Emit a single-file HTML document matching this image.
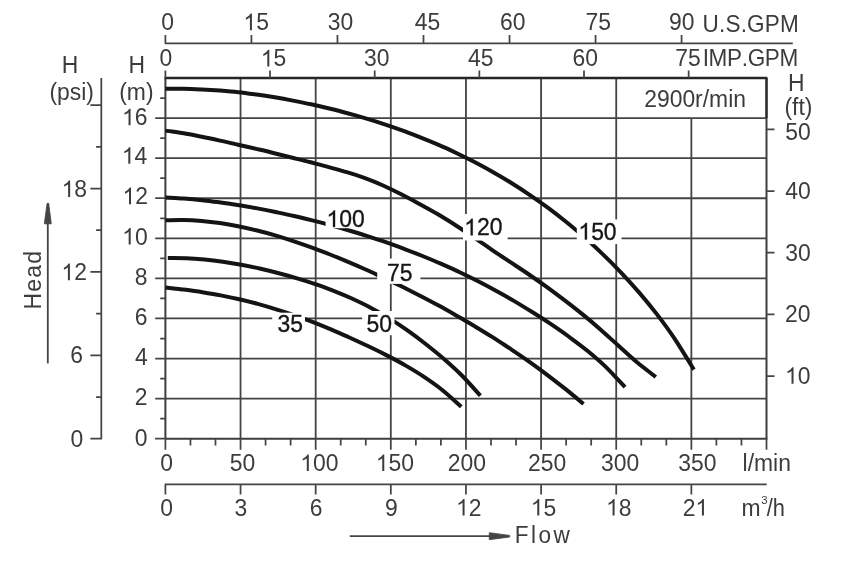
<!DOCTYPE html>
<html><head><meta charset="utf-8"><title>Pump performance curves</title>
<style>html,body{margin:0;padding:0;background:#fff}body{width:858px;height:564px;overflow:hidden;font-family:"Liberation Sans",sans-serif}svg{display:block;will-change:transform}</style>
</head><body>
<svg width="858" height="564" viewBox="0 0 858 564">
<rect width="858" height="564" fill="#fff"/>
<path d="M240.54 78.0V438.7M315.68 78.0V438.7M390.81 78.0V438.7M465.95 78.0V438.7M541.09 78.0V438.7M616.23 78.0V438.7M691.36 118.08V438.7M165.4 398.62H766.5M165.4 358.54H766.5M165.4 318.47H766.5M165.4 278.39H766.5M165.4 238.31H766.5M165.4 198.23H766.5M165.4 158.16H766.5M165.4 118.08H766.5" stroke="#444444" stroke-width="1.8" fill="none"/>
<path d="M165.4 77.7V438.7M766.5 78.0V438.7" stroke="#3e3e3e" stroke-width="2.0" fill="none"/>
<path d="M164.6 78.0H767.4" stroke="#262626" stroke-width="2.3" fill="none"/>
<path d="M766.5 78.0V118.08" stroke="#2c2c2c" stroke-width="2.3" fill="none"/>
<path d="M165.4 438.7H767.4" stroke="#3e3e3e" stroke-width="2.1" fill="none"/>
<path d="M155.1 438.7H165.4M165.40 438.7V449.7M190.45 438.7V445.5M215.49 438.7V445.5M240.54 438.7V449.7M265.58 438.7V445.5M290.63 438.7V445.5M315.68 438.7V449.7M340.72 438.7V445.5M365.77 438.7V445.5M390.81 438.7V449.7M415.86 438.7V445.5M440.90 438.7V445.5M465.95 438.7V449.7M491.00 438.7V445.5M516.04 438.7V445.5M541.09 438.7V449.7M566.13 438.7V445.5M591.18 438.7V445.5M616.23 438.7V449.7M641.27 438.7V445.5M666.32 438.7V445.5M691.36 438.7V449.7M716.41 438.7V445.5M741.45 438.7V445.5M766.50 438.7V449.7M160.20000000000002 418.66H165.4M155.20000000000002 398.62H165.4M160.20000000000002 378.58H165.4M155.20000000000002 358.54H165.4M160.20000000000002 338.51H165.4M155.20000000000002 318.47H165.4M160.20000000000002 298.43H165.4M155.20000000000002 278.39H165.4M160.20000000000002 258.35H165.4M155.20000000000002 238.31H165.4M160.20000000000002 218.27H165.4M155.20000000000002 198.23H165.4M160.20000000000002 178.19H165.4M155.20000000000002 158.16H165.4M160.20000000000002 138.12H165.4M155.20000000000002 118.08H165.4M160.20000000000002 98.04H165.4M766.5 376.10H774.5M766.5 314.40H774.5M766.5 252.70H774.5M766.5 191.00H774.5M766.5 129.30H774.5" stroke="#444444" stroke-width="1.75" fill="none"/>
<path d="M101.3 78.0V439.4M90.39999999999999 438.70H101.3M96.1 397.00H101.3M90.39999999999999 355.30H101.3M96.1 313.60H101.3M90.39999999999999 271.90H101.3M96.1 230.20H101.3M90.39999999999999 188.50H101.3M96.1 146.80H101.3M90.39999999999999 105.10H101.3" stroke="#444444" stroke-width="1.75" fill="none"/>
<path d="M164.70000000000002 43.3H792.8M165.40 43.3V35.099999999999994M251.43 43.3V35.099999999999994M337.46 43.3V35.099999999999994M423.49 43.3V35.099999999999994M509.52 43.3V35.099999999999994M595.55 43.3V35.099999999999994M681.58 43.3V35.099999999999994M165.40 78.0V70.4M270.05 78.0V70.4M374.70 78.0V70.4M479.35 78.0V70.4M584.00 78.0V70.4M688.65 78.0V70.4" stroke="#444444" stroke-width="1.75" fill="none"/>
<path d="M164.70000000000002 484.4H766.7M165.40 484.4V494.59999999999997M240.54 484.4V494.59999999999997M315.68 484.4V494.59999999999997M390.81 484.4V494.59999999999997M465.95 484.4V494.59999999999997M541.09 484.4V494.59999999999997M616.23 484.4V494.59999999999997M691.36 484.4V494.59999999999997" stroke="#444444" stroke-width="1.75" fill="none"/>
<path d="M47.8 363.4V220" stroke="#444444" stroke-width="1.8" fill="none"/>
<path d="M47.1 203.3H48.7L51.3 223.8H44.3Z" fill="#444444" stroke="#444444" stroke-width="0.8" stroke-linejoin="round"/>
<path d="M349.8 536.1H492" stroke="#444444" stroke-width="1.8" fill="none"/>
<path d="M509.7 535.4V537L489.3 539.7V532.7Z" fill="#444444" stroke="#444444" stroke-width="0.8" stroke-linejoin="round"/>
<path d="M165.5 88.7C168.5 88.7 177.6 88.6 183.7 88.7C189.8 88.8 195.8 89.1 201.9 89.4C208.0 89.7 214.0 90.1 220.1 90.6C226.2 91.1 232.2 91.6 238.3 92.3C244.4 93.0 250.4 93.8 256.5 94.6C262.6 95.4 268.6 96.3 274.7 97.3C280.8 98.3 286.8 99.4 292.9 100.6C299.0 101.8 305.0 103.0 311.1 104.3C317.2 105.6 323.2 107.0 329.3 108.5C335.4 110.0 341.4 111.5 347.5 113.2C353.6 114.9 359.6 116.6 365.7 118.4C371.8 120.2 377.8 122.1 383.9 124.1C390.0 126.1 396.0 128.2 402.1 130.4C408.2 132.6 414.2 135.0 420.3 137.4C426.4 139.8 432.5 142.3 438.6 144.9C444.7 147.5 450.7 150.3 456.8 153.2C462.9 156.1 468.9 159.1 475.0 162.3C481.1 165.5 487.1 168.8 493.2 172.2C499.3 175.6 505.3 179.2 511.4 183.0C517.5 186.8 523.5 190.7 529.6 194.8C535.7 198.9 541.7 203.2 547.8 207.7C553.9 212.2 559.9 216.9 566.0 221.8C572.1 226.7 578.1 231.8 584.2 237.1C590.3 242.4 596.3 248.1 602.4 253.9C608.5 259.7 614.5 265.7 620.6 272.1C626.7 278.5 632.7 285.1 638.8 292.1C644.9 299.2 650.9 306.5 657.0 314.4C663.1 322.3 669.1 330.4 675.2 339.6C681.3 348.8 690.8 364.6 693.9 369.6" stroke="#141414" stroke-width="4.0" fill="none"/>
<path d="M165.5 130.6C168.5 131.1 177.5 132.3 183.6 133.3C189.7 134.3 195.8 135.6 201.8 136.8C207.9 138.0 213.9 139.3 219.9 140.6C225.9 141.9 231.9 143.3 238.0 144.7C244.1 146.1 250.1 147.5 256.2 148.9C262.2 150.3 268.3 151.7 274.3 153.2C280.3 154.7 286.3 156.2 292.4 157.7C298.4 159.2 304.6 160.7 310.6 162.3C316.7 163.9 322.7 165.4 328.7 167.1C334.7 168.8 340.8 170.4 346.8 172.2C352.9 174.0 358.9 175.9 365.0 178.1C371.1 180.3 377.1 182.8 383.1 185.5C389.1 188.2 395.1 191.2 401.2 194.3C407.2 197.4 413.3 200.6 419.4 203.9C425.4 207.2 431.5 210.4 437.5 214.0C443.5 217.6 449.6 221.3 455.6 225.2C461.7 229.1 467.8 233.3 473.8 237.4C479.9 241.5 485.9 245.7 491.9 249.8C497.9 253.9 503.9 257.9 510.0 261.9C516.0 265.9 522.2 269.9 528.2 274.0C534.2 278.1 540.3 282.3 546.3 286.7C552.3 291.1 558.3 295.6 564.4 300.2C570.5 304.8 576.5 309.5 582.6 314.4C588.7 319.3 594.7 324.4 600.7 329.7C606.7 335.0 612.8 340.6 618.8 346.0C624.8 351.4 630.8 357.1 637.0 362.3C643.2 367.5 652.7 374.5 655.8 377.0" stroke="#141414" stroke-width="4.0" fill="none"/>
<path d="M165.5 197.4C168.6 197.6 177.8 198.0 183.9 198.5C190.0 199.0 196.1 199.6 202.2 200.3C208.3 201.0 214.5 201.7 220.6 202.5C226.7 203.3 232.8 204.2 238.9 205.2C245.0 206.2 251.2 207.3 257.3 208.4C263.4 209.5 269.5 210.7 275.6 212.0C281.7 213.3 287.9 214.6 294.0 216.0C300.1 217.4 306.2 218.9 312.3 220.4C318.4 221.9 324.6 223.5 330.7 225.2C336.8 226.9 343.0 228.7 349.1 230.5C355.2 232.3 361.3 234.2 367.4 236.1C373.5 238.0 379.7 240.1 385.8 242.2C391.9 244.3 398.0 246.6 404.1 248.9C410.2 251.2 416.4 253.5 422.5 256.0C428.6 258.5 434.7 261.0 440.8 263.7C446.9 266.4 453.1 269.1 459.2 272.0C465.3 274.9 471.5 277.9 477.6 281.0C483.7 284.1 489.8 287.3 495.9 290.7C502.0 294.1 508.2 297.5 514.3 301.1C520.4 304.7 526.5 308.5 532.6 312.3C538.7 316.1 544.9 320.1 551.0 324.2C557.1 328.3 563.2 332.5 569.3 337.0C575.4 341.5 581.6 346.0 587.7 351.0C593.8 356.0 599.8 361.1 606.0 367.1C612.2 373.1 621.8 383.8 625.0 387.2" stroke="#141414" stroke-width="4.0" fill="none"/>
<path d="M165.5 220.2C168.5 220.1 177.5 219.8 183.6 219.9C189.7 220.0 195.8 220.4 201.8 220.9C207.9 221.4 213.9 222.1 219.9 223.0C225.9 223.9 232.1 225.0 238.1 226.2C244.1 227.4 250.1 228.8 256.2 230.3C262.2 231.8 268.3 233.4 274.4 235.2C280.4 237.0 286.5 238.9 292.5 240.9C298.5 242.9 304.6 245.0 310.6 247.2C316.7 249.4 322.8 251.6 328.8 254.0C334.9 256.4 340.8 258.8 346.9 261.4C352.9 263.9 359.1 266.6 365.1 269.3C371.2 272.0 377.1 274.8 383.2 277.6C389.2 280.4 395.3 283.3 401.4 286.3C407.4 289.3 413.4 292.4 419.5 295.5C425.6 298.6 431.6 301.8 437.7 305.1C443.8 308.4 449.8 311.8 455.8 315.2C461.8 318.6 467.8 322.2 473.9 325.8C479.9 329.4 486.1 333.1 492.1 336.9C498.2 340.7 504.1 344.7 510.2 348.7C516.2 352.7 522.4 356.8 528.4 361.1C534.4 365.4 540.5 369.8 546.5 374.3C552.5 378.9 558.5 383.5 564.7 388.4C570.9 393.3 580.4 401.4 583.5 404.0" stroke="#141414" stroke-width="4.0" fill="none"/>
<path d="M167.8 258.0C170.9 258.0 180.1 257.9 186.2 258.2C192.3 258.4 198.4 258.9 204.5 259.5C210.6 260.1 216.8 260.9 222.9 261.8C229.0 262.7 235.1 263.7 241.2 264.8C247.3 265.9 253.5 267.1 259.6 268.5C265.7 269.9 271.8 271.4 277.9 273.0C284.0 274.6 290.2 276.3 296.3 278.1C302.4 279.9 308.5 281.8 314.6 283.9C320.7 286.0 326.9 288.2 333.0 290.6C339.1 293.0 345.2 295.5 351.3 298.3C357.4 301.1 363.6 304.0 369.7 307.2C375.8 310.4 381.9 313.9 388.0 317.6C394.1 321.3 400.3 325.3 406.4 329.6C412.5 333.9 418.6 338.4 424.7 343.2C430.8 348.0 437.0 352.9 443.1 358.2C449.2 363.5 455.2 368.8 461.4 375.0C467.6 381.2 477.2 392.2 480.4 395.7" stroke="#141414" stroke-width="4.0" fill="none"/>
<path d="M165.5 287.5C168.6 287.9 177.8 288.8 183.9 289.6C190.1 290.4 196.2 291.2 202.4 292.2C208.6 293.2 214.7 294.2 220.8 295.4C227.0 296.6 233.2 297.9 239.3 299.3C245.5 300.7 251.5 302.2 257.7 303.9C263.8 305.6 270.0 307.4 276.2 309.3C282.4 311.2 288.5 313.2 294.6 315.4C300.8 317.5 307.0 319.8 313.1 322.2C319.2 324.6 325.4 327.1 331.5 329.7C337.6 332.3 343.8 334.9 349.9 337.7C356.0 340.5 362.2 343.4 368.4 346.3C374.5 349.2 380.6 352.2 386.8 355.4C393.0 358.6 399.2 361.8 405.3 365.4C411.4 368.9 417.6 372.6 423.7 376.7C429.8 380.8 435.9 385.0 442.2 390.0C448.5 395.0 458.1 404.0 461.3 406.8" stroke="#141414" stroke-width="4.0" fill="none"/>
<rect x="325.6" y="208" width="40.9" height="20.2" fill="#fff"/>
<rect x="463.0" y="214.0" width="44.6" height="26.5" fill="#fff"/>
<rect x="576.8" y="219.4" width="44.7" height="24.7" fill="#fff"/>
<rect x="377.2" y="258.6" width="43.2" height="25.3" fill="#fff"/>
<rect x="362.2" y="311.0" width="32.3" height="24.2" fill="#fff"/>
<rect x="272.2" y="312.7" width="32.8" height="21.3" fill="#fff"/>
<g font-family="Liberation Sans, sans-serif" font-size="24" fill="#3c3c3c" style="font-kerning:none">
<text transform="translate(161.33 30.2) scale(0.955 1)">0</text>
<g transform="translate(243.39 30.2)"><path d="M763 0H583V1147Q518 1085 412.5 1023T223 930V1104Q374 1175 487 1276T647 1472H763Z" vector-effect="non-scaling-stroke" transform="translate(0.00 0) scale(0.011191 -0.011263)"/><text transform="translate(12.75 0) scale(0.955 1)">5</text></g>
<text transform="translate(327.81 30.2) scale(0.955 1)">30</text>
<text transform="translate(414.72 30.2) scale(0.955 1)">45</text>
<text transform="translate(499.92 30.2) scale(0.955 1)">60</text>
<text transform="translate(585.55 30.2) scale(0.955 1)">75</text>
<text transform="translate(669.01 30.2) scale(0.955 1)">90</text>
<text transform="translate(702.51 32.0) scale(0.94 1)" letter-spacing="0.2">U.S.GPM</text>
<text transform="translate(159.38 66.4) scale(0.955 1)">0</text>
<g transform="translate(260.79 66.4)"><path d="M763 0H583V1147Q518 1085 412.5 1023T223 930V1104Q374 1175 487 1276T647 1472H763Z" vector-effect="non-scaling-stroke" transform="translate(0.00 0) scale(0.011191 -0.011263)"/><text transform="translate(12.75 0) scale(0.955 1)">5</text></g>
<text transform="translate(363.96 66.4) scale(0.955 1)">30</text>
<text transform="translate(468.12 66.4) scale(0.955 1)">45</text>
<text transform="translate(572.57 66.4) scale(0.955 1)">60</text>
<text transform="translate(675.3 66.4) scale(0.955 1)">75</text>
<text transform="translate(702.67 66.4) scale(0.94 1)" letter-spacing="-0.36">IMP.GPM</text>
<text transform="translate(61.82 73.4) scale(0.955 1)">H</text>
<text transform="translate(49.42 100.1) scale(0.955 1)">(psi)</text>
<text transform="translate(128.57 73.4) scale(0.955 1)">H</text>
<text transform="translate(119.17 100.1) scale(0.955 1)">(m)</text>
<g transform="translate(61.6 197.1)"><path d="M763 0H583V1147Q518 1085 412.5 1023T223 930V1104Q374 1175 487 1276T647 1472H763Z" vector-effect="non-scaling-stroke" transform="translate(0.00 0) scale(0.011191 -0.011263)"/><text transform="translate(12.75 0) scale(0.955 1)">8</text></g>
<g transform="translate(61.38 280.2)"><path d="M763 0H583V1147Q518 1085 412.5 1023T223 930V1104Q374 1175 487 1276T647 1472H763Z" vector-effect="non-scaling-stroke" transform="translate(0.00 0) scale(0.011191 -0.011263)"/><text transform="translate(12.75 0) scale(0.955 1)">2</text></g>
<text transform="translate(70.35 363.0) scale(0.955 1)">6</text>
<text transform="translate(70.43 447.4) scale(0.955 1)">0</text>
<g transform="translate(122.01 125.3)"><path d="M763 0H583V1147Q518 1085 412.5 1023T223 930V1104Q374 1175 487 1276T647 1472H763Z" vector-effect="non-scaling-stroke" transform="translate(0.00 0) scale(0.011191 -0.011263)"/><text transform="translate(12.75 0) scale(0.955 1)">6</text></g>
<g transform="translate(121.79 163.8)"><path d="M763 0H583V1147Q518 1085 412.5 1023T223 930V1104Q374 1175 487 1276T647 1472H763Z" vector-effect="non-scaling-stroke" transform="translate(0.00 0) scale(0.011191 -0.011263)"/><text transform="translate(12.75 0) scale(0.955 1)">4</text></g>
<g transform="translate(122.48 204.2)"><path d="M763 0H583V1147Q518 1085 412.5 1023T223 930V1104Q374 1175 487 1276T647 1472H763Z" vector-effect="non-scaling-stroke" transform="translate(0.00 0) scale(0.011191 -0.011263)"/><text transform="translate(12.75 0) scale(0.955 1)">2</text></g>
<g transform="translate(122.15 244.6)"><path d="M763 0H583V1147Q518 1085 412.5 1023T223 930V1104Q374 1175 487 1276T647 1472H763Z" vector-effect="non-scaling-stroke" transform="translate(0.00 0) scale(0.011191 -0.011263)"/><text transform="translate(12.75 0) scale(0.955 1)">0</text></g>
<text transform="translate(134.78 284.5) scale(0.955 1)">8</text>
<text transform="translate(134.8 324.9) scale(0.955 1)">6</text>
<text transform="translate(134.95 364.9) scale(0.955 1)">4</text>
<text transform="translate(134.83 405.3) scale(0.955 1)">2</text>
<text transform="translate(134.83 446.0) scale(0.955 1)">0</text>
<text transform="translate(788.07 91.2) scale(0.955 1)">H</text>
<text transform="translate(784.45 114.8) scale(0.955 1)">(ft)</text>
<text transform="translate(785.19 140.4) scale(0.955 1)">50</text>
<text transform="translate(785.29 198.7) scale(0.955 1)">40</text>
<text transform="translate(785.21 261.2) scale(0.955 1)">30</text>
<text transform="translate(784.97 321.9) scale(0.955 1)">20</text>
<g transform="translate(785.0 383.8)"><path d="M763 0H583V1147Q518 1085 412.5 1023T223 930V1104Q374 1175 487 1276T647 1472H763Z" vector-effect="non-scaling-stroke" transform="translate(0.00 0) scale(0.011191 -0.011263)"/><text transform="translate(12.75 0) scale(0.955 1)">0</text></g>
<text transform="translate(644.16 107.0) scale(0.955 1)">2900r/min</text>
<g transform="translate(326.48 227.0)" fill="#161616" stroke="#161616" stroke-width="0.35"><path d="M763 0H583V1147Q518 1085 412.5 1023T223 930V1104Q374 1175 487 1276T647 1472H763Z" vector-effect="non-scaling-stroke" transform="translate(0.00 0) scale(0.011191 -0.011263)"/><text transform="translate(12.75 0) scale(0.955 1)">00</text></g>
<g transform="translate(464.18 235.3)" fill="#161616" stroke="#161616" stroke-width="0.35"><path d="M763 0H583V1147Q518 1085 412.5 1023T223 930V1104Q374 1175 487 1276T647 1472H763Z" vector-effect="non-scaling-stroke" transform="translate(0.00 0) scale(0.011191 -0.011263)"/><text transform="translate(12.75 0) scale(0.955 1)">20</text></g>
<g transform="translate(578.38 239.5)" fill="#161616" stroke="#161616" stroke-width="0.35"><path d="M763 0H583V1147Q518 1085 412.5 1023T223 930V1104Q374 1175 487 1276T647 1472H763Z" vector-effect="non-scaling-stroke" transform="translate(0.00 0) scale(0.011191 -0.011263)"/><text transform="translate(12.75 0) scale(0.955 1)">50</text></g>
<text transform="translate(386.95 281.1) scale(0.955 1)" fill="#161616" stroke="#161616" stroke-width="0.35">75</text>
<text transform="translate(366.44 331.8) scale(0.955 1)" fill="#161616" stroke="#161616" stroke-width="0.35">50</text>
<text transform="translate(277.6 331.8) scale(0.955 1)" fill="#161616" stroke="#161616" stroke-width="0.35">35</text>
<text transform="translate(160.23 471.1) scale(0.955 1)">0</text>
<text transform="translate(229.74 471.1) scale(0.955 1)">50</text>
<g transform="translate(300.28 471.1)"><path d="M763 0H583V1147Q518 1085 412.5 1023T223 930V1104Q374 1175 487 1276T647 1472H763Z" vector-effect="non-scaling-stroke" transform="translate(0.00 0) scale(0.011191 -0.011263)"/><text transform="translate(12.75 0) scale(0.955 1)">00</text></g>
<g transform="translate(375.73 471.1)"><path d="M763 0H583V1147Q518 1085 412.5 1023T223 930V1104Q374 1175 487 1276T647 1472H763Z" vector-effect="non-scaling-stroke" transform="translate(0.00 0) scale(0.011191 -0.011263)"/><text transform="translate(12.75 0) scale(0.955 1)">50</text></g>
<text transform="translate(447.85 471.1) scale(0.955 1)">200</text>
<text transform="translate(528.05 471.1) scale(0.955 1)">250</text>
<text transform="translate(601.04 471.1) scale(0.955 1)">300</text>
<text transform="translate(678.24 471.1) scale(0.955 1)">350</text>
<text transform="translate(742.58 471.1) scale(0.955 1)">l/min</text>
<text transform="translate(160.23 515.5) scale(0.955 1)">0</text>
<text transform="translate(234.39 515.5) scale(0.955 1)">3</text>
<text transform="translate(309.7 515.5) scale(0.955 1)">6</text>
<text transform="translate(384.98 515.5) scale(0.955 1)">9</text>
<g transform="translate(456.03 515.5)"><path d="M763 0H583V1147Q518 1085 412.5 1023T223 930V1104Q374 1175 487 1276T647 1472H763Z" vector-effect="non-scaling-stroke" transform="translate(0.00 0) scale(0.011191 -0.011263)"/><text transform="translate(12.75 0) scale(0.955 1)">2</text></g>
<g transform="translate(530.74 515.5)"><path d="M763 0H583V1147Q518 1085 412.5 1023T223 930V1104Q374 1175 487 1276T647 1472H763Z" vector-effect="non-scaling-stroke" transform="translate(0.00 0) scale(0.011191 -0.011263)"/><text transform="translate(12.75 0) scale(0.955 1)">5</text></g>
<g transform="translate(606.05 515.5)"><path d="M763 0H583V1147Q518 1085 412.5 1023T223 930V1104Q374 1175 487 1276T647 1472H763Z" vector-effect="non-scaling-stroke" transform="translate(0.00 0) scale(0.011191 -0.011263)"/><text transform="translate(12.75 0) scale(0.955 1)">8</text></g>
<g transform="translate(682.65 515.5)"><text transform="translate(0.00 0) scale(0.955 1)">2</text><path d="M763 0H583V1147Q518 1085 412.5 1023T223 930V1104Q374 1175 487 1276T647 1472H763Z" vector-effect="non-scaling-stroke" transform="translate(12.75 0) scale(0.011191 -0.011263)"/></g>
<text transform="translate(741.55 515.5) scale(0.955 1)">m</text>
<text transform="translate(514.7 543.2) scale(0.94 1)" letter-spacing="2.611">Flow</text>
<text transform="translate(41.2 309.5) rotate(-90) scale(0.955 1)" letter-spacing="1.29">Head</text>
<text transform="translate(761.2 504.4) scale(1.08 1)" font-size="10.5">3</text>
<text transform="translate(766.8 515.5) scale(0.91 1)">/h</text>
</g>
</svg>
</body></html>
